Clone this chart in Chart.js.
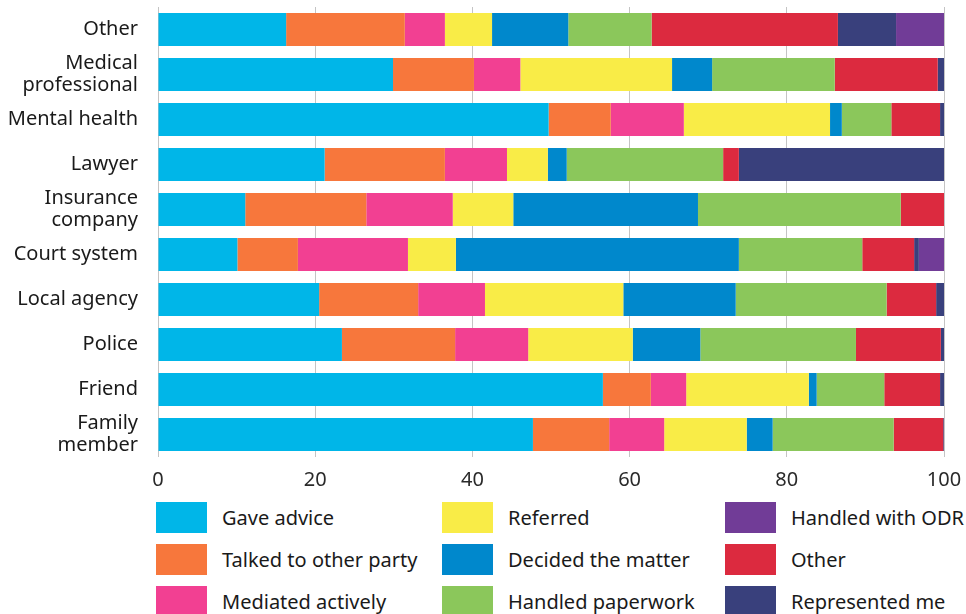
<!DOCTYPE html>
<html>
<head>
<meta charset="utf-8">
<script src="https://cdn.jsdelivr.net/npm/chart.js@4/dist/chart.umd.min.js"></script>
<style>
  body { margin: 0; background: #fff; font-family: "Noto Sans", sans-serif; }
  #wrap { position: relative; width: 966px; height: 614px; overflow: hidden; }
  #myChart { position: absolute; left: 0; top: 0; }
  #legend { position: absolute; left: 156px; top: 502px; display: grid;
            grid-template-columns: 286px 283px 240px; grid-auto-flow: column;
            grid-template-rows: 42px 42px 42px; }
  .item { display: flex; align-items: flex-start; font-size: 20px; color: #1a1a1a; }
  .box { width: 51px; height: 31px; margin-right: 15px; flex: none; }
  .item span { line-height: 31px; white-space: nowrap; }
</style>
</head>
<body>
<div id="wrap">
  <canvas id="myChart" width="966" height="500"></canvas>
  <div id="legend"></div>
</div>
<script>
var categories = [['Other'], ['Medical', 'professional'], ['Mental health'], ['Lawyer'],
    ['Insurance', 'company'], ['Court system'], ['Local agency'], ['Police'], ['Friend'], ['Family', 'member']];

// percentages per category, top to bottom
var gaveAdvice  = [16.3, 29.9, 49.7, 21.2, 11.1, 10.1, 20.5, 23.4, 56.6, 47.7];
var talked      = [15.1, 10.3, 7.9, 15.3, 15.4, 7.7, 12.6, 14.4, 6.1, 9.7];
var mediated    = [5.1, 5.9, 9.3, 7.9, 11.0, 14.0, 8.5, 9.3, 4.5, 7.0];
var referred    = [6.0, 19.3, 18.6, 5.2, 7.7, 6.1, 17.6, 13.3, 15.6, 10.5];
var decided     = [9.7, 5.1, 1.5, 2.4, 23.5, 36.0, 14.3, 8.6, 1.0, 3.3];
var paperwork   = [10.6, 15.6, 6.3, 19.9, 25.8, 15.7, 19.2, 19.8, 8.6, 15.4];
var otherAction = [23.7, 13.1, 6.2, 2.0, 5.5, 6.6, 6.3, 10.8, 7.1, 6.3];
var represented = [7.4, 0.8, 0.5, 26.1, 0, 0.6, 1.0, 0.4, 0.5, 0.1];
var handledOdr  = [6.1, 0, 0, 0, 0, 3.2, 0, 0, 0, 0];

var xTicks = [0, 20, 40, 60, 80, 100];

// stacking order (left to right)
var series = [
    { label: 'Gave advice', data: gaveAdvice, color: '#00b6e8' },
    { label: 'Talked to other party', data: talked, color: '#f7773c' },
    { label: 'Mediated actively', data: mediated, color: '#f24092' },
    { label: 'Referred', data: referred, color: '#f9ec47' },
    { label: 'Decided the matter', data: decided, color: '#0088cc' },
    { label: 'Handled paperwork', data: paperwork, color: '#8bc75b' },
    { label: 'Other', data: otherAction, color: '#dc2a3f' },
    { label: 'Represented me', data: represented, color: '#39407c' },
    { label: 'Handled with ODR', data: handledOdr, color: '#713c97' }
];

// legend reads down the columns in this order
var legendOrder = ['Gave advice', 'Talked to other party', 'Mediated actively',
    'Referred', 'Decided the matter', 'Handled paperwork',
    'Handled with ODR', 'Other', 'Represented me'];

var ctx = document.getElementById('myChart').getContext('2d');

var myChart = new Chart(ctx, {
    type: 'bar',
    data: {
        labels: categories,
        datasets: series.map(function (s) {
            return {
                label: s.label,
                data: s.data,
                backgroundColor: s.color,
                borderWidth: 0,
                categoryPercentage: 1,
                barPercentage: 0.733
            };
        })
    },
    options: {
        indexAxis: 'y',
        responsive: false,
        animation: false,
        layout: { padding: { top: 7, right: 22, left: 0, bottom: 0 } },
        plugins: {
            legend: { display: false },
            tooltip: { enabled: false }
        },
        scales: {
            x: {
                stacked: true,
                min: 0,
                max: 100,
                afterBuildTicks: function (scale) {
                    scale.ticks = xTicks.map(function (v) { return { value: v }; });
                },
                afterFit: function (scale) {
                    scale.height = 43;
                    scale.paddingLeft = 0;
                    scale.paddingRight = 0;
                },
                border: { display: false },
                grid: { color: '#c4c4c4', lineWidth: 1, drawTicks: false },
                ticks: {
                    padding: 11,
                    maxRotation: 0,
                    color: '#2a2a2a',
                    font: { family: 'Noto Sans', size: 20 }
                }
            },
            y: {
                stacked: true,
                afterFit: function (scale) {
                    scale.width = 158;
                    scale.paddingTop = 0;
                    scale.paddingBottom = 0;
                },
                border: { display: false },
                grid: { display: false },
                ticks: {
                    autoSkip: false,
                    padding: 12,
                    color: '#1a1a1a',
                    font: { family: 'Noto Sans', size: 20, lineHeight: 1.1 }
                }
            }
        }
    }
});

var legend = document.getElementById('legend');
legendOrder.forEach(function (name) {
    var s = series.filter(function (d) { return d.label === name; })[0];
    var item = document.createElement('div');
    item.className = 'item';
    item.innerHTML = '<div class="box" style="background:' + s.color + '"></div><span>' + s.label + '</span>';
    legend.appendChild(item);
});
</script>
</body>
</html>
